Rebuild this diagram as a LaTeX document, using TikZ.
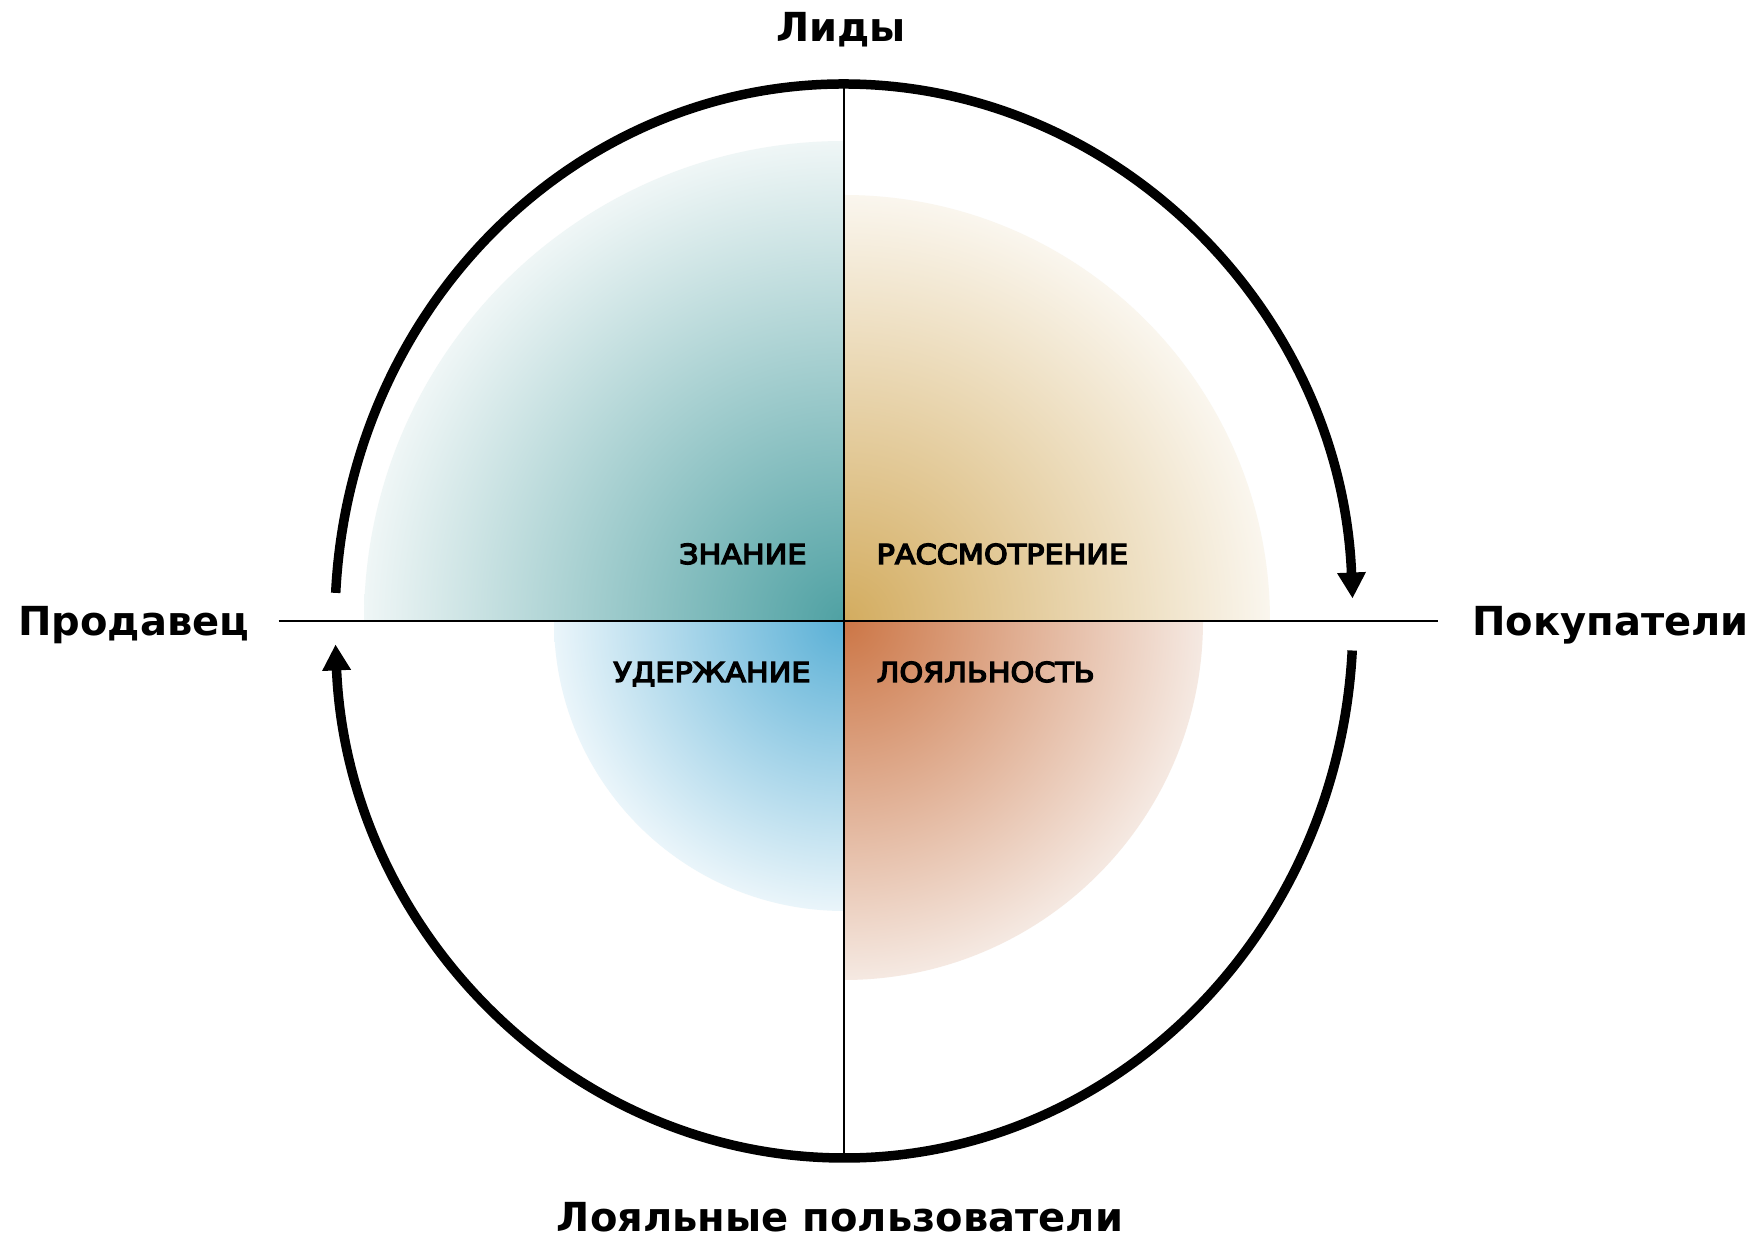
\documentclass[tikz,border=0pt]{standalone}
\usepackage{fontspec}
\setmainfont{DejaVu Sans}
\newfontfamily\stagefont[FakeBold=5,FakeStretch=1.1]{DejaVu Sans}
\usetikzlibrary{arrows.meta}
\definecolor{tealC}{HTML}{4FA1A3}
\definecolor{tealE}{HTML}{EFF6F6}
\definecolor{goldC}{HTML}{D3AC5F}
\definecolor{goldE}{HTML}{FAF6EE}
\definecolor{blueC}{HTML}{5AB0D6}
\definecolor{blueE}{HTML}{EAF5FA}
\definecolor{orgC}{HTML}{CC7646}
\definecolor{orgE}{HTML}{F5E9E2}
\pgfdeclareradialshading{tealsh}{\pgfpoint{0bp}{0bp}}{color(0bp)=(tealC); color(25bp)=(tealE); color(50bp)=(tealE)}
\pgfdeclareradialshading{goldsh}{\pgfpoint{0bp}{0bp}}{color(0bp)=(goldC); color(25bp)=(goldE); color(50bp)=(goldE)}
\pgfdeclareradialshading{bluesh}{\pgfpoint{0bp}{0bp}}{color(0bp)=(blueC); color(25bp)=(blueE); color(50bp)=(blueE)}
\pgfdeclareradialshading{orgsh}{\pgfpoint{0bp}{0bp}}{color(0bp)=(orgC); color(25bp)=(orgE); color(50bp)=(orgE)}
\begin{document}
\begin{tikzpicture}[x=1pt,y=1pt,
  axis/.style={line width=2.4pt, black},
  cycle/.style={line width=9.5pt, black},
  tip/.style={-{Triangle[length=26pt,width=27pt]}},
  head/.style={font=\bfseries\fontsize{40}{44}\selectfont, inner sep=0pt},
  stage/.style={font=\stagefont\fontsize{27.5}{32}\selectfont, inner sep=0pt}]
\useasboundingbox[fill=white] (0,0) rectangle (1761,1239);
\coordinate (C) at (844,618);
% quadrants
\begin{scope}
  \clip (C) rectangle ++(-480,480);
  \shade[shading=tealsh] (C) circle[radius=480];
\end{scope}
\begin{scope}
  \clip (C) rectangle ++(426,426);
  \shade[shading=goldsh] (C) circle[radius=426];
\end{scope}
\begin{scope}
  \clip (C) rectangle ++(-290,-290);
  \shade[shading=bluesh] (C) circle[radius=290];
\end{scope}
\begin{scope}
  \clip (C) rectangle ++(359,-359);
  \shade[shading=orgsh] (C) circle[radius=359];
\end{scope}
% axes
\coordinate (hl) at (278.5,618);
\coordinate (hr) at (1437.5,618);
\coordinate (vt) at (844,1155);
\coordinate (vb) at (844,81);
\draw[axis] (hl) -- (hr);
\draw[axis] (vt) -- (vb);
% cycle arcs
\draw[cycle,tip] (C) ++(177:509 and 537) arc[start angle=177, end angle=2.4, x radius=509, y radius=537];
\draw[cycle,tip] (C) ++(-3.15:509 and 537) arc[start angle=-3.15, end angle=-177.5, x radius=509, y radius=537];
% labels
\node[head, anchor=base] (lidy) at (841,1197.5) {Лиды};
\node[head, anchor=base west] (prod) at (18,603) {Продавец};
\node[head, anchor=base east] (pok) at (1749,603) {Покупатели};
\node[head, anchor=base] (loyal) at (840,7.5) {Лояльные пользователи};
\node[stage, anchor=base east] (zn) at (806.7,675) {ЗНАНИЕ};
\node[stage, anchor=base west] (ras) at (876.5,675) {РАССМОТРЕНИЕ};
\node[stage, anchor=base east] (ud) at (810.7,557) {УДЕРЖАНИЕ};
\node[stage, anchor=base west] (loy) at (876.5,557) {ЛОЯЛЬНОСТЬ};
\end{tikzpicture}
\end{document}
